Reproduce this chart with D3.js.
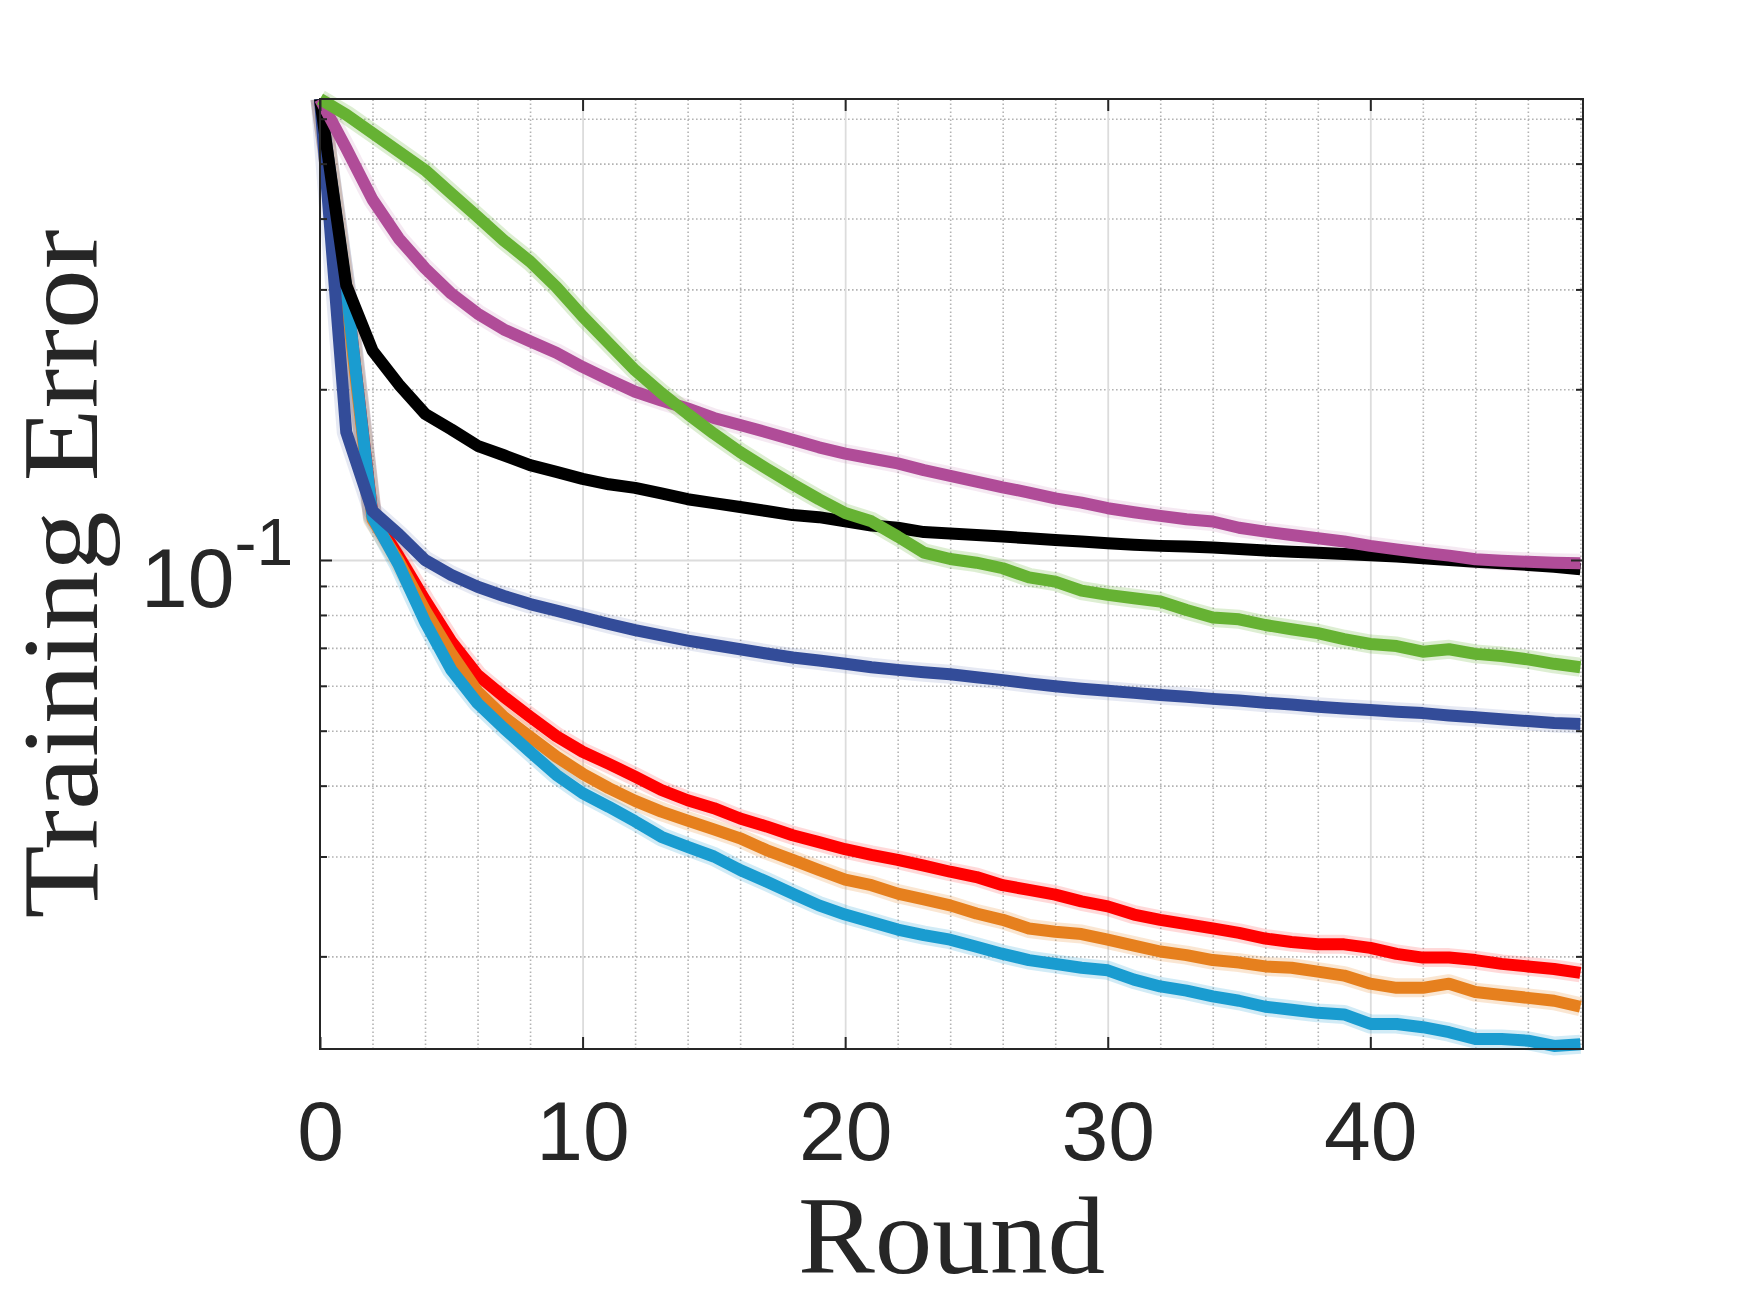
<!DOCTYPE html>
<html>
<head>
<meta charset="utf-8">
<script src="https://cdn.jsdelivr.net/npm/d3@7"></script>
<style>
  html, body { margin: 0; padding: 0; background: #fff; }
  svg { display: block; }
</style>
</head>
<body>
<svg id="chart"></svg>
<script>
// training error per round, one array per method
const rounds = [0, 1, 2, 3, 4, 5, 6, 7, 8, 9, 10, 11, 12, 13, 14, 15, 16, 17, 18, 19, 20,
    21, 22, 23, 24, 25, 26, 27, 28, 29, 30, 31, 32, 33, 34, 35, 36, 37, 38, 39, 40,
    41, 42, 43, 44, 45, 46, 47, 48];

const errGreen = [0.65, 0.610, 0.566, 0.525, 0.487, 0.443, 0.403, 0.366, 0.336, 0.303, 0.269,
    0.241, 0.216, 0.197, 0.181, 0.167, 0.155, 0.145, 0.136, 0.128, 0.121,
    0.117, 0.110, 0.103, 0.1004, 0.0989, 0.0967, 0.0932, 0.0916, 0.0883, 0.0868,
    0.0856, 0.0845, 0.0816, 0.0792, 0.0786, 0.0768, 0.0755, 0.0743, 0.0725, 0.0711,
    0.0705, 0.0689, 0.0696, 0.0683, 0.0677, 0.0668, 0.0656, 0.0647];

const errMagenta = [0.65, 0.532, 0.432, 0.369, 0.327, 0.295, 0.272, 0.255, 0.243, 0.232, 0.219,
    0.208, 0.198, 0.191, 0.185, 0.178, 0.173, 0.168, 0.163, 0.158, 0.154,
    0.151, 0.148, 0.144, 0.1407, 0.1375, 0.1343, 0.1315, 0.1284, 0.1262, 0.1234,
    0.1214, 0.1196, 0.1180, 0.1169, 0.1140, 0.1122, 0.1107, 0.1092, 0.1078, 0.1059,
    0.1044, 0.1030, 0.1018, 0.1003, 0.0997, 0.0993, 0.0989, 0.0987];

const errBlack = [0.65, 0.305, 0.234, 0.204, 0.181, 0.170, 0.159, 0.153, 0.147, 0.143, 0.139,
    0.136, 0.134, 0.131, 0.128, 0.126, 0.124, 0.122, 0.120, 0.119, 0.117,
    0.115, 0.114, 0.112, 0.1114, 0.1107, 0.1100, 0.1092, 0.1085, 0.1078, 0.1070,
    0.1064, 0.1059, 0.1056, 0.1052, 0.1046, 0.1039, 0.1034, 0.1030, 0.1025, 0.1019,
    0.1014, 0.1007, 0.1000, 0.0993, 0.0987, 0.0980, 0.0973, 0.0963];

const errDarkBlue = [0.65, 0.168, 0.122, 0.111, 0.100, 0.0941, 0.0897, 0.0864, 0.0836, 0.0814, 0.0792,
    0.0771, 0.0752, 0.0736, 0.0721, 0.0708, 0.0696, 0.0684, 0.0673, 0.0665, 0.0656,
    0.0647, 0.0640, 0.0634, 0.0629, 0.0621, 0.0614, 0.0606, 0.0599, 0.0593, 0.0588,
    0.0583, 0.0578, 0.0574, 0.0569, 0.0565, 0.0560, 0.0556, 0.0551, 0.0547, 0.0544,
    0.0540, 0.0537, 0.0532, 0.0528, 0.0524, 0.0520, 0.0516, 0.0514];

const errRed = [0.65, 0.300, 0.120, 0.1015, 0.085, 0.0718, 0.0627, 0.0574, 0.0529, 0.0489, 0.0459,
    0.0437, 0.0415, 0.0393, 0.0377, 0.0365, 0.0350, 0.0339, 0.0327, 0.0318, 0.0309,
    0.0302, 0.0296, 0.0289, 0.0282, 0.0276, 0.0267, 0.0262, 0.0257, 0.0250, 0.0245,
    0.0237, 0.0232, 0.0228, 0.0224, 0.0220, 0.0215, 0.0212, 0.0210, 0.0210, 0.0207,
    0.0202, 0.0199, 0.0199, 0.0197, 0.0194, 0.0192, 0.0190, 0.0187];

const errOrange = [0.65, 0.290, 0.118, 0.0995, 0.0816, 0.0684, 0.0586, 0.0529, 0.0488, 0.0450, 0.0420,
    0.0396, 0.0376, 0.0360, 0.0347, 0.0335, 0.0323, 0.0308, 0.0296, 0.0284, 0.0273,
    0.0267, 0.0258, 0.0252, 0.0246, 0.0238, 0.0232, 0.0224, 0.0221, 0.0219, 0.0214,
    0.0209, 0.0204, 0.0201, 0.0197, 0.0195, 0.0192, 0.0191, 0.0188, 0.0185, 0.0179,
    0.0176, 0.0176, 0.0179, 0.0173, 0.0171, 0.0169, 0.0167, 0.0163];

const errCyan = [0.65, 0.302, 0.119, 0.098, 0.0778, 0.0640, 0.0559, 0.0505, 0.0459, 0.0418, 0.0388,
    0.0367, 0.0346, 0.0325, 0.0312, 0.0300, 0.0284, 0.0271, 0.0258, 0.0246, 0.0237,
    0.0230, 0.0223, 0.0218, 0.0214, 0.0208, 0.0202, 0.0197, 0.0194, 0.0191, 0.0189,
    0.0182, 0.0177, 0.0174, 0.0170, 0.0167, 0.0163, 0.0161, 0.0159, 0.0158, 0.0152,
    0.0152, 0.0150, 0.0147, 0.0143, 0.0143, 0.0142, 0.0139, 0.0140];

const xTicks = [0, 10, 20, 30, 40];
const xMinorTicks = [2, 4, 6, 8, 12, 14, 16, 18, 22, 24, 26, 28, 32, 34, 36, 38, 42, 44, 46, 48];
const yMajorTicks = [0.1];
const yMinorTicks = [0.02, 0.03, 0.04, 0.05, 0.06, 0.07, 0.08, 0.09, 0.2, 0.3, 0.4, 0.5, 0.6];
const xDomain = [0, 48.1];
const yDomain = [0.01373, 0.65];

var w = 1750, h = 1313;
const plot = { left: 320, right: 1583, top: 99, bottom: 1049 };
const axisColor = "#262626";
const lineWidth = 12;
const tickFont = "'Liberation Sans', Arial, Helvetica, sans-serif";
const labelFont = "'Liberation Serif', 'Times New Roman', serif";

// draw order: later ones end up on top
const series = [
    { values: errRed,      color: "#ff0000", band: 0.15 },
    { values: errOrange,   color: "#e6801e", band: 0.2 },
    { values: errCyan,     color: "#1a9cd0", band: 0.2 },
    { values: errDarkBlue, color: "#334c99", band: 0.12 },
    { values: errBlack,    color: "#000000", band: 0 },
    { values: errMagenta,  color: "#b04c98", band: 0.12 },
    { values: errGreen,    color: "#66b233", band: 0.22 }
];

var svg = d3.select("#chart").attr("width", w).attr("height", h)
    .attr("viewBox", "0 0 " + w + " " + h);

var x = d3.scaleLinear().domain(xDomain).range([plot.left, plot.right]);
var y = d3.scaleLog().domain(yDomain).range([plot.bottom, plot.top]);
var plotW = plot.right - plot.left, plotH = plot.bottom - plot.top;

function gridAxis(axis, transform, color, dash) {
    var g = svg.append("g").attr("transform", transform).call(axis);
    g.select(".domain").remove();
    g.selectAll(".tick line")
        .attr("stroke", color)
        .attr("stroke-width", dash ? 1.6 : 1.8)
        .attr("stroke-dasharray", dash);
    g.selectAll("text").remove();
    return g;
}

// minor grid (dotted) then major grid (solid light)
gridAxis(d3.axisBottom(x).tickValues(xMinorTicks).tickSize(-plotH).tickFormat(""),
    "translate(0," + plot.bottom + ")", "#b3b3b3", "1.6,2.4");
gridAxis(d3.axisLeft(y).tickValues(yMinorTicks).tickSize(-plotW).tickFormat(""),
    "translate(" + plot.left + ",0)", "#b3b3b3", "1.6,2.4");
gridAxis(d3.axisBottom(x).tickValues(xTicks.slice(1)).tickSize(-plotH).tickFormat(""),
    "translate(0," + plot.bottom + ")", "#dcdcdc", null);
gridAxis(d3.axisLeft(y).tickValues(yMajorTicks).tickSize(-plotW).tickFormat(""),
    "translate(" + plot.left + ",0)", "#dcdcdc", null);

var line = d3.line()
    .x(function (d, i) { return x(rounds[i]); })
    .y(function (d) { return y(d); });

// faint spread bands behind the lines
series.filter(function (s) { return s.band > 0; }).forEach(function (s) {
    svg.append("path")
        .attr("d", line(s.values))
        .attr("fill", "none")
        .attr("stroke", s.color)
        .attr("stroke-opacity", s.band)
        .attr("stroke-width", lineWidth + 7)
        .attr("stroke-linejoin", "round");
});

series.forEach(function (s) {
    svg.append("path")
        .attr("d", line(s.values))
        .attr("fill", "none")
        .attr("stroke", s.color)
        .attr("stroke-width", lineWidth)
        .attr("stroke-linejoin", "round")
        .attr("stroke-linecap", "butt");
});

// axes box
svg.append("rect")
    .attr("x", plot.left).attr("y", plot.top)
    .attr("width", plotW).attr("height", plotH)
    .attr("fill", "none")
    .attr("stroke", axisColor)
    .attr("stroke-width", 2);

function styleTicks(g) {
    g.select(".domain").remove();
    g.selectAll(".tick line").attr("stroke", axisColor).attr("stroke-width", 2);
    return g;
}

// bottom axis with labels
var xAxisG = svg.append("g")
    .attr("transform", "translate(0," + plot.bottom + ")")
    .call(d3.axisBottom(x).tickValues(xTicks).tickSizeInner(-12).tickSizeOuter(0)
        .tickPadding(51).tickFormat(d3.format("d")));
styleTicks(xAxisG);
xAxisG.selectAll(".tick text")
    .attr("fill", axisColor)
    .style("font-family", tickFont)
    .style("font-size", "84px");

// top axis ticks
styleTicks(svg.append("g")
    .attr("transform", "translate(0," + plot.top + ")")
    .call(d3.axisTop(x).tickValues(xTicks).tickSizeInner(-12).tickSizeOuter(0).tickFormat("")));

// left / right axis ticks
[[d3.axisLeft, plot.left, -1], [d3.axisRight, plot.right, 1]].forEach(function (a) {
    styleTicks(svg.append("g")
        .attr("transform", "translate(" + a[1] + ",0)")
        .call(a[0](y).tickValues(yMinorTicks).tickSizeInner(-7).tickSizeOuter(0).tickFormat("")));
    var g = styleTicks(svg.append("g")
        .attr("transform", "translate(" + a[1] + ",0)")
        .call(a[0](y).tickValues(yMajorTicks).tickSizeInner(-12).tickSizeOuter(0).tickFormat("")));
    if (a[2] < 0) {
        g.selectAll(".tick text").remove();
        var t = g.selectAll(".tick").append("text")
            .attr("x", -179)
            .attr("y", 47)
            .attr("fill", axisColor)
            .attr("text-anchor", "start")
            .style("font-family", tickFont)
            .style("font-size", "84px");
        t.append("tspan").text("10");
        t.append("tspan").attr("dy", -42).style("font-size", "66px").text("-1");
    }
});

// axis labels
svg.append("text")
    .attr("x", (plot.left + plot.right) / 2)
    .attr("y", 1273)
    .attr("text-anchor", "middle")
    .attr("fill", axisColor)
    .attr("textLength", 307)
    .attr("lengthAdjust", "spacingAndGlyphs")
    .style("font-family", labelFont)
    .style("font-size", "110px")
    .text("Round");

svg.append("text")
    .attr("transform", "translate(97," + ((plot.top + plot.bottom) / 2) + ") rotate(-90)")
    .attr("text-anchor", "middle")
    .attr("fill", axisColor)
    .attr("textLength", 689)
    .attr("lengthAdjust", "spacingAndGlyphs")
    .style("font-family", labelFont)
    .style("font-size", "108px")
    .text("Training Error");
</script>
</body>
</html>
